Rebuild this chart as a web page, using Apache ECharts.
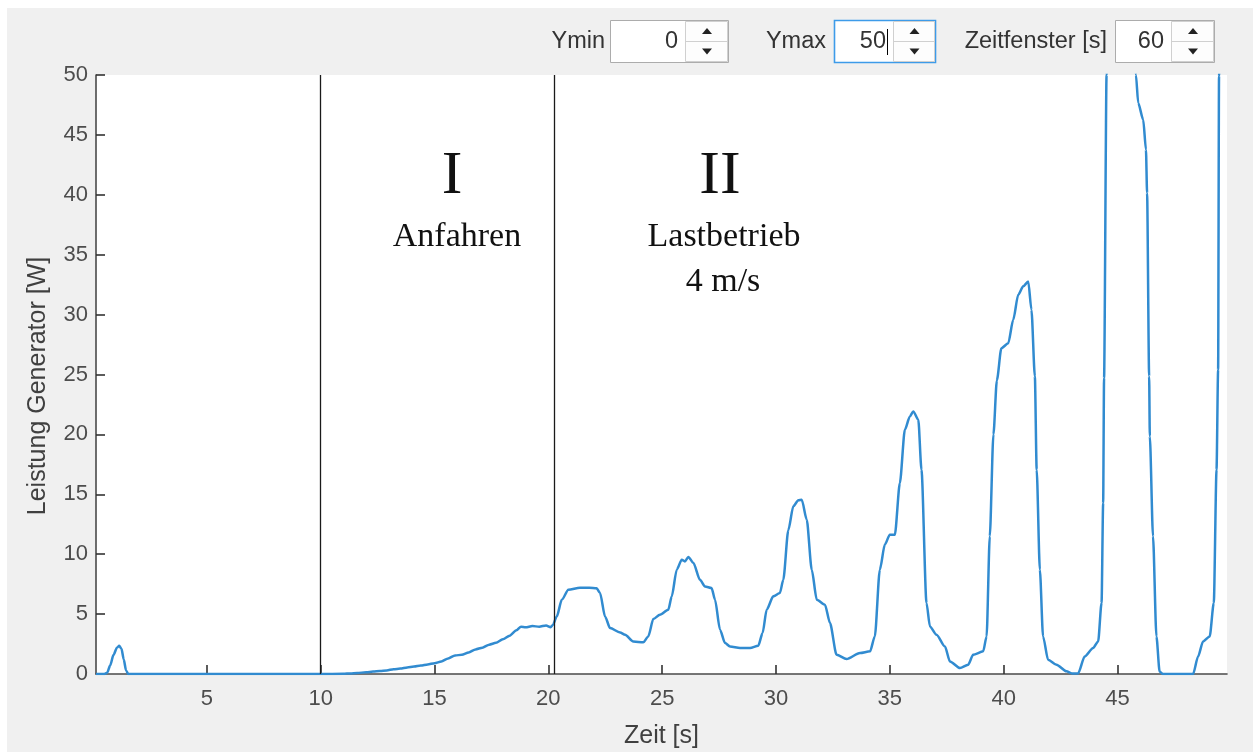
<!DOCTYPE html>
<html>
<head>
<meta charset="utf-8">
<script src="https://cdn.jsdelivr.net/npm/echarts@6/dist/echarts.min.js"></script>
<style>
  html, body { margin: 0; padding: 0; background: #f0f0f0; }
  #chart { width: 1253px; height: 752px; }
</style>
</head>
<body>
<div id="chart"></div>
<script>
// Generator power over time (s, W)
const time = [
  0.13, 0.5, 0.62, 0.75, 0.9, 1.05, 1.15, 1.25, 1.35, 1.45, 1.55, 3, 6, 9, 10, 11,
  11.3, 11.6, 12.0, 12.3, 12.6, 12.9, 13.2, 13.5, 13.8, 14.1, 14.4, 14.7, 15.0, 15.3,
  15.6, 15.9, 16.2, 16.5, 16.8, 17.1, 17.4, 17.7, 18.0, 18.3, 18.6, 18.8, 19.0, 19.3,
  19.6, 19.9, 20.1, 20.2,
  20.37, 20.59, 20.88, 21.39, 21.8, 22.12, 22.27, 22.49, 22.71, 23.15, 23.37, 23.73,
  24.17, 24.39, 24.61, 24.9, 25.27, 25.42, 25.64, 25.86, 26.0, 26.15, 26.37, 26.66,
  26.88, 27.17, 27.32, 27.54, 27.76, 27.98, 28.42, 28.86, 29.22, 29.41, 29.59, 29.88,
  30.17, 30.32, 30.54, 30.76, 30.98, 31.13, 31.35, 31.57, 31.79, 32.15, 32.37, 32.66,
  33.1, 33.69, 34.13, 34.34, 34.56, 34.78, 35.0, 35.22, 35.44, 35.66, 35.88, 36.03,
  36.25, 36.39, 36.61, 36.76, 37.05, 37.42, 37.64, 38.08, 38.44, 38.66, 39.1, 39.25,
  39.39, 39.55, 39.7, 39.9, 40.2, 40.42, 40.64, 40.86, 41.08, 41.22, 41.37, 41.45,
  41.59, 41.73, 41.95, 42.32, 42.76, 43.0, 43.27, 43.56, 43.93, 44.15, 44.3, 44.37,
  44.41, 44.52, 44.7, 45.2, 45.6, 45.81, 45.91, 46.13, 46.25, 46.3, 46.39, 46.42,
  46.56, 46.71, 46.85, 47.0, 48.32, 48.54, 48.76, 49.05, 49.23, 49.35, 49.42, 49.46,
  49.6, 49.81
];
const power = [
  0, 0, 0.1, 0.7, 1.6, 2.2, 2.35, 2.1, 1.2, 0.3, 0, 0, 0, 0, 0, 0.02,
  0.05, 0.08, 0.15, 0.2, 0.25, 0.3, 0.4, 0.45, 0.55, 0.62, 0.7, 0.8, 0.9, 1.05,
  1.3, 1.55, 1.6, 1.8, 2.05, 2.2, 2.45, 2.6, 2.9, 3.2, 3.65, 3.95, 3.9, 4.0,
  3.95, 4.05, 3.9, 4.1,
  4.8, 6.2, 7.04, 7.2, 7.2, 7.15, 6.76, 4.8, 3.84, 3.47, 3.28, 2.72,
  2.64, 3.14, 4.59, 4.95, 5.37, 6.48, 8.71, 9.54, 9.4, 9.77, 9.27, 7.87,
  7.31, 7.18, 6.2, 3.7, 2.59, 2.3, 2.17, 2.17, 2.36, 3.42, 5.37, 6.48,
  6.76, 7.87, 12.0, 14.0, 14.5, 14.55, 12.88, 8.7, 6.2, 5.78, 4.26, 1.61,
  1.25, 1.75, 1.89, 3.14, 8.7, 10.8, 11.63, 11.63, 15.94, 20.39, 21.5, 21.92,
  21.23, 17.05, 5.93, 3.97, 3.28, 2.3, 1.05, 0.5, 0.78, 1.61, 1.89, 3.14,
  11.5, 20, 24.5, 27.2, 27.6, 29.57, 31.66, 32.36, 32.77, 30.41, 24.85, 17.05,
  8.7, 3.14, 1.19, 0.78, 0.22, 0.05, 0.05, 1.47, 2.17, 2.72, 5.93, 14.27,
  24.7, 50, 60, 64, 58, 50, 47.66, 46.27, 43.77, 40.15, 24.85, 19.83,
  11.49, 3.14, 0.2, 0, 0, 1.47, 2.72, 3.14, 5.93, 17.05, 25.4, 49.9,
  62, 70
];

// Phase boundaries (s)
const phaseBounds = [10, 20.26];

// Tick positions
const xTicks = [5, 10, 15, 20, 25, 30, 35, 40, 45];

// Spin box controls above the plot
const controls = [
  { label: 'Ymin', value: '0' },
  { label: 'Ymax', value: '50' },
  { label: 'Zeitfenster [s]', value: '60' }
];

const SANS = '"Liberation Sans", Arial, sans-serif';
const SERIF = '"Liberation Serif", "Times New Roman", serif';

function spinBox(labelRight, x0, xDiv, x1, ctrl, focused) {
  const y0 = 20, y1 = 62, ym = 41;
  const els = [];
  els.push({ type: 'text', style: { x: labelRight, y: 42, text: ctrl.label, fill: '#333',
    font: '23.5px ' + SANS, align: 'right', verticalAlign: 'middle' } });
  els.push({ type: 'rect', shape: { x: x0 + 0.5, y: y0 + 0.5, width: x1 - x0, height: y1 - y0 },
    style: { fill: '#fff', stroke: focused ? '#3d9be9' : '#acacac', lineWidth: focused ? 1.6 : 1 } });
  els.push({ type: 'rect', shape: { x: xDiv + 0.5, y: y0 + 1.5, width: x1 - xDiv - 1, height: y1 - y0 - 2 },
    style: { fill: '#fdfdfd', stroke: '#d0d0d0', lineWidth: 1 } });
  els.push({ type: 'line', shape: { x1: xDiv + 1, y1: ym + 0.5, x2: x1 - 1, y2: ym + 0.5 },
    style: { stroke: '#d0d0d0', lineWidth: 1 } });
  const cx = (xDiv + x1) / 2 + 0.5;
  els.push({ type: 'polygon', shape: { points: [[cx - 5, 34], [cx + 5, 34], [cx, 28]] }, style: { fill: '#222' } });
  els.push({ type: 'polygon', shape: { points: [[cx - 5, 48.5], [cx + 5, 48.5], [cx, 54.5]] }, style: { fill: '#222' } });
  els.push({ type: 'text', style: { x: xDiv - 7, y: 42, text: ctrl.value, fill: '#333',
    font: '23.5px ' + SANS, align: 'right', verticalAlign: 'middle' } });
  if (focused) {
    els.push({ type: 'line', shape: { x1: xDiv - 5.5, y1: 29, x2: xDiv - 5.5, y2: 55 },
      style: { stroke: '#000', lineWidth: 1 } });
  }
  return els;
}

const chart = echarts.init(document.getElementById('chart'), null, { renderer: 'canvas' });

const graphicEls = [
  { type: 'rect', shape: { x: 0, y: 0, width: 7, height: 752 }, style: { fill: '#fff' }, z: -10 },
  { type: 'rect', shape: { x: 0, y: 0, width: 1253, height: 8 }, style: { fill: '#fff' }, z: -10 },
  // Axis title for power, rotated
  { type: 'text', x: 38, y: 386, rotation: Math.PI / 2,
    style: { x: 0, y: 0, text: 'Leistung Generator [W]', font: '25px ' + SANS, fill: '#404040', align: 'center', verticalAlign: 'middle' } },
  // Phase annotations
  { type: 'text', style: { x: 452, y: 177, text: 'I', font: '62px ' + SERIF, fill: '#111', align: 'center', verticalAlign: 'middle' } },
  { type: 'text', style: { x: 720, y: 177, text: 'II', font: '62px ' + SERIF, fill: '#111', align: 'center', verticalAlign: 'middle' } },
  { type: 'text', style: { x: 457, y: 237, text: 'Anfahren', font: '34px ' + SERIF, fill: '#111', align: 'center', verticalAlign: 'middle' } },
  { type: 'text', style: { x: 724, y: 237, text: 'Lastbetrieb', font: '34px ' + SERIF, fill: '#111', align: 'center', verticalAlign: 'middle' } },
  { type: 'text', style: { x: 723, y: 282, text: '4 m/s', font: '34px ' + SERIF, fill: '#111', align: 'center', verticalAlign: 'middle' } }
].concat(
  spinBox(605, 610, 685, 728, controls[0], false),
  spinBox(826, 834, 893, 935, controls[1], true),
  spinBox(1107, 1115, 1171, 1214, controls[2], false)
);

const option = {
  animation: false,
  backgroundColor: '#f0f0f0',
  grid: {
    left: 96, right: 26, top: 75, bottom: 78,
    show: true, backgroundColor: '#ffffff', borderWidth: 0,
    outerBoundsMode: 'none'
  },
  xAxis: {
    type: 'value',
    min: 0.13,
    max: 49.81,
    name: 'Zeit [s]',
    nameLocation: 'middle',
    nameGap: 50,
    nameTextStyle: { fontFamily: SANS, fontSize: 25, color: '#404040' },
    axisLine: { show: true, onZero: false, lineStyle: { color: '#4a4a4a', width: 1.6 } },
    axisTick: { show: true, inside: true, length: 9, customValues: xTicks, lineStyle: { color: '#333', width: 1.6 } },
    axisLabel: { customValues: xTicks, fontFamily: SANS, fontSize: 22, color: '#4d4d4d', margin: 14 },
    splitLine: { show: false }
  },
  yAxis: {
    type: 'value',
    min: 0,
    max: 50,
    interval: 5,
    axisLine: { show: true, lineStyle: { color: '#4a4a4a', width: 1.6 } },
    axisTick: { show: true, inside: true, length: 9, lineStyle: { color: '#333', width: 1.6 } },
    axisLabel: { fontFamily: SANS, fontSize: 22, color: '#4d4d4d', margin: 8 },
    splitLine: { show: false }
  },
  series: [{
    type: 'line',
    data: time.map((t, i) => [t, power[i]]),
    showSymbol: false,
    smooth: 0.25,
    smoothMonotone: 'x',
    clip: true,
    lineStyle: { color: '#318bd0', width: 2.5 },
    markLine: {
      silent: true,
      symbol: ['none', 'none'],
      label: { show: false },
      lineStyle: { color: '#1a1a1a', width: 1.3, type: 'solid' },
      data: phaseBounds.map(x => ({ xAxis: x }))
    }
  }],
  graphic: graphicEls
};

chart.setOption(option);
</script>
</body>
</html>
